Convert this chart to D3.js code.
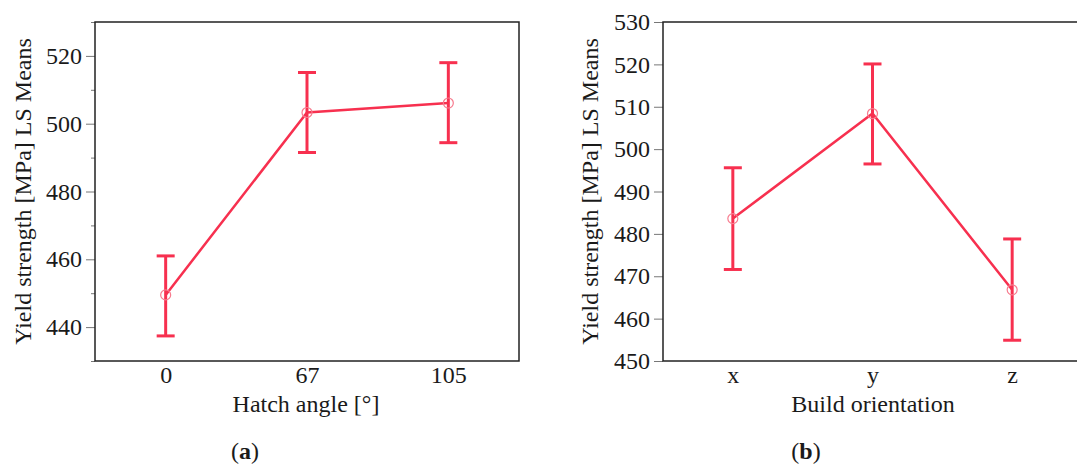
<!DOCTYPE html>
<html>
<head>
<meta charset="utf-8">
<script src="https://cdn.jsdelivr.net/npm/d3@7"></script>
<style>
  body { margin: 0; background: #fff; }
  text { font-family: "Liberation Serif", "Times New Roman", Times, serif; fill: #1a1a1a; }
</style>
</head>
<body>
<div id="chart"></div>
<script>
// panel (a): hatch angle
const hatchAngles = ["0", "67", "105"];
const hatchMeans  = [449.5, 503.3, 506.1];
const hatchLower  = [437.4, 491.5, 494.4];
const hatchUpper  = [461.0, 515.1, 518.0];
const hatchTicks  = [440, 460, 480, 500, 520];

// panel (b): build orientation
const orientations = ["x", "y", "z"];
const orientMeans  = [483.6, 508.4, 466.8];
const orientLower  = [471.6, 496.5, 454.9];
const orientUpper  = [495.6, 520.1, 478.8];
const orientTicks  = [450, 460, 470, 480, 490, 500, 510, 520, 530];

const width = 1077, height = 466;
const red = "#f7304f";
const serif = "'Liberation Serif', 'Times New Roman', Times, serif";

const svg = d3.select("#chart")
    .append("svg")
    .attr("width", width)
    .attr("height", height);

function drawPanel(p) {
    const data = p.cats.map((c, i) => ({ cat: c, mean: p.means[i], lo: p.lower[i], hi: p.upper[i] }));

    const x = d3.scalePoint()
        .domain(p.cats)
        .range([p.left, p.right])
        .padding(0.5);

    const y = d3.scaleLinear()
        .domain(p.yDomain)
        .range([p.bottom, p.top]);

    const g = svg.append("g");

    // minor ticks (only panel a has them)
    if (p.minor) {
        g.append("g")
            .attr("transform", `translate(${p.left},0)`)
            .call(d3.axisLeft(y).tickValues(p.minor).tickSize(4).tickFormat(""))
            .call(a => a.select(".domain").remove())
            .call(a => a.selectAll("line").attr("stroke", "#777"));
    }

    // y axis
    g.append("g")
        .attr("transform", `translate(${p.left},0)`)
        .call(d3.axisLeft(y).tickValues(p.ticks).tickSize(9).tickPadding(4))
        .attr("font-family", serif)
        .attr("font-size", 24)
        .call(a => a.select(".domain").remove())
        .call(a => a.selectAll("line").attr("stroke", "#777"))
        .call(a => a.selectAll("text").attr("fill", "#1a1a1a"));

    // x axis labels (no tick marks)
    g.append("g")
        .attr("transform", `translate(0,${p.bottom})`)
        .call(d3.axisBottom(x).tickSize(0).tickPadding(5))
        .attr("font-family", serif)
        .attr("font-size", 24)
        .call(a => a.select(".domain").remove())
        .call(a => a.selectAll("text").attr("fill", "#1a1a1a"));

    // frame
    g.append("rect")
        .attr("x", p.left)
        .attr("y", p.top)
        .attr("width", p.right - p.left)
        .attr("height", p.bottom - p.top)
        .attr("fill", "none")
        .attr("stroke", "#222")
        .attr("stroke-width", 1.5);

    // connecting line
    g.append("path")
        .datum(data)
        .attr("fill", "none")
        .attr("stroke", red)
        .attr("stroke-width", 2.5)
        .attr("d", d3.line().x(d => x(d.cat)).y(d => y(d.mean)));

    // error bars
    const eb = g.selectAll(".eb")
        .data(data)
        .join("g")
        .attr("class", "eb")
        .attr("stroke", red)
        .attr("stroke-width", 3);

    eb.append("line")
        .attr("x1", d => x(d.cat)).attr("x2", d => x(d.cat))
        .attr("y1", d => y(d.lo)).attr("y2", d => y(d.hi));
    eb.append("line")
        .attr("x1", d => x(d.cat) - 9).attr("x2", d => x(d.cat) + 9)
        .attr("y1", d => y(d.hi)).attr("y2", d => y(d.hi));
    eb.append("line")
        .attr("x1", d => x(d.cat) - 9).attr("x2", d => x(d.cat) + 9)
        .attr("y1", d => y(d.lo)).attr("y2", d => y(d.lo));

    // open circle markers
    g.selectAll(".pt")
        .data(data)
        .join("circle")
        .attr("class", "pt")
        .attr("cx", d => x(d.cat))
        .attr("cy", d => y(d.mean))
        .attr("r", 5)
        .attr("fill", "none")
        .attr("stroke", "#f77b8e")
        .attr("stroke-width", 1.2);

    // y label
    g.append("text")
        .attr("transform", `translate(${p.yLabelX},${(p.top + p.bottom) / 2}) rotate(-90)`)
        .attr("text-anchor", "middle")
        .style("font-size", "24px")
        .text("Yield strength [MPa] LS Means");

    // x label
    g.append("text")
        .attr("x", p.xLabelX)
        .attr("y", 412)
        .attr("text-anchor", "middle")
        .style("font-size", "24px")
        .text(p.xLabel);

    // caption
    const cap = g.append("text")
        .attr("x", p.capX)
        .attr("y", 459)
        .attr("text-anchor", "middle")
        .style("font-size", "24px");
    cap.append("tspan").text("(");
    cap.append("tspan").style("font-weight", "bold").text(p.capLetter);
    cap.append("tspan").text(")");
}

drawPanel({
    cats: hatchAngles, means: hatchMeans, lower: hatchLower, upper: hatchUpper,
    ticks: hatchTicks, minor: [430, 450, 470, 490, 510, 530],
    yDomain: [430, 530],
    left: 95, right: 519, top: 22, bottom: 361,
    yLabelX: 31, xLabel: "Hatch angle [°]", xLabelX: 306,
    capX: 245, capLetter: "a"
});

drawPanel({
    cats: orientations, means: orientMeans, lower: orientLower, upper: orientUpper,
    ticks: orientTicks, minor: null,
    yDomain: [450, 530],
    left: 663, right: 1082, top: 22, bottom: 361,
    yLabelX: 598, xLabel: "Build orientation", xLabelX: 873,
    capX: 806, capLetter: "b"
});
</script>
</body>
</html>
